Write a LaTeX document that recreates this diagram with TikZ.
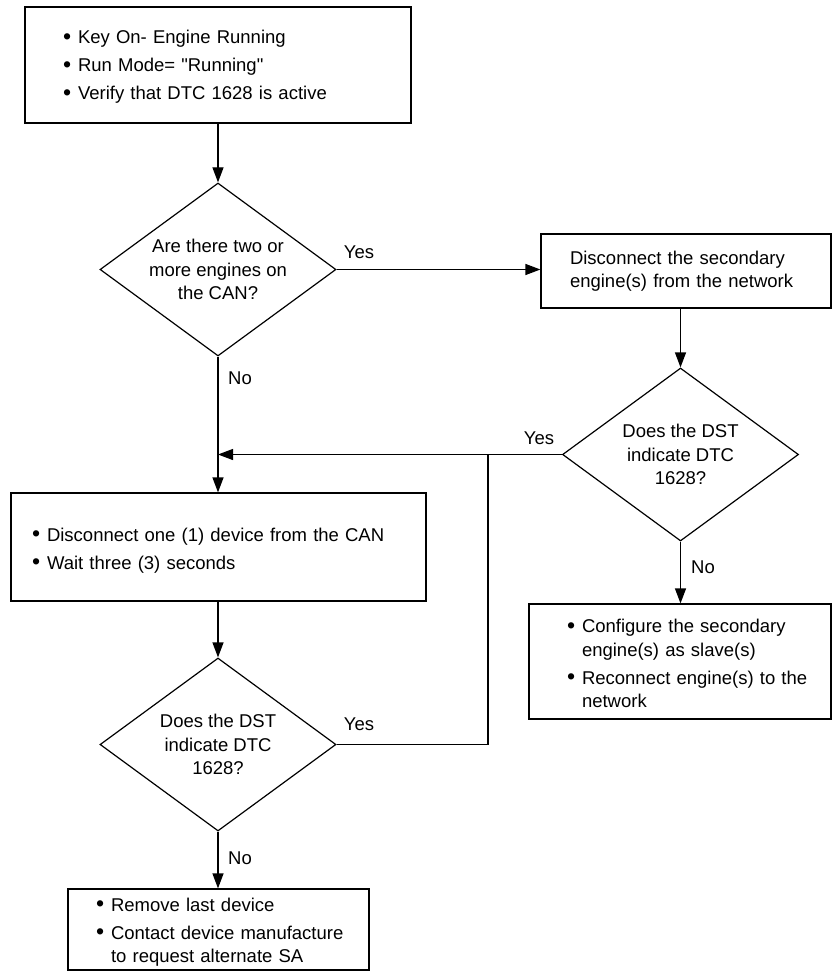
\documentclass[tikz,border=0pt]{standalone}
\usepackage{fontspec}
\setmainfont{Liberation Sans}
\usetikzlibrary{arrows.meta,shapes.geometric}
\newcommand{\bitem}[1]{\hangindent=15pt\hangafter=1\noindent\makebox[15pt][l]{\raisebox{-0.6pt}{\scalebox{1.25}{\textbullet}}}#1\par}
\newcommand{\nl}{\hfil\break}
\newcommand{\lift}[1]{\par\kern-#1\hrule height 0pt}

\begin{document}
\begin{tikzpicture}[x=1pt,y=-1pt,line width=1.2pt,>={Triangle[length=15pt,width=11pt]},
  font=\fontsize{18.5}{23.5}\selectfont,
  box/.style={draw,rectangle,inner sep=0pt,align=left},
  decision/.style={draw,diamond,inner xsep=-30pt,inner ysep=-20pt,minimum width=236pt,minimum height=173pt,align=center},
  answer/.style={inner sep=0pt}]
\useasboundingbox (0,0) rectangle (838,973);
% ---------- left column ----------
\node[box,text width=386pt,minimum height=116pt] (start) at (218,65)
  {\leftskip=38pt\parskip=4.5pt
   \bitem{Key On- Engine Running}\bitem{Run Mode= \textquotedbl Running\textquotedbl}\bitem{Verify that DTC 1628 is active}\lift{4pt}};
\node[decision] (engines) at (218,269.5) {Are there two or\\more engines on\\the CAN?};
\node[box,text width=415pt,minimum height=108pt] (device) at (218.5,547)
  {\leftskip=21pt\parskip=4.5pt
   \bitem{Disconnect one (1) device from the CAN}\bitem{Wait three (3) seconds}\lift{7pt}};
\node[decision] (dstleft) at (218,744.5) {Does the DST\\indicate DTC\\1628?};
\node[box,text width=301pt,minimum height=81pt] (last) at (218.5,929.5)
  {\leftskip=28pt\parskip=4.5pt
   \bitem{Remove last device}\bitem{Contact device manufacture\nl to request alternate SA}\lift{5pt}};
% ---------- right column ----------
\node[box,text width=290pt,minimum height=74pt] (secondary) at (686,271)
  {\leftskip=29pt
   Disconnect the secondary\nl engine(s) from the network\par};
\node[decision] (dstright) at (680.5,454.5) {Does the DST\\indicate DTC\\1628?};
\node[box,text width=302pt,minimum height=115pt] (slave) at (680,661.5)
  {\leftskip=38pt\parskip=4.5pt
   \bitem{Configure the secondary\nl engine(s) as slave(s)}\bitem{Reconnect engine(s) to the\nl network}\lift{4pt}};
% ---------- connectors ----------
\coordinate (join) at (engines.south |- dstright.west);
\coordinate (merge) at (488,455);
\draw[->] (start) -- (engines);
\draw[->] (engines.east) -- (engines.east -| secondary.west);
\draw[->] (dstright.north |- secondary.south) -- (dstright.north);
\draw[->] (dstright.west) -- (join);
\draw[->] (engines.south) -- (engines.south |- device.north);
\draw[->] (dstright.south) -- (dstright.south |- slave.north);
\draw[->] (device.south -| dstleft.north) -- (dstleft.north);
\draw (dstleft.east) -| (merge);
\draw[->] (dstleft.south) -- (dstleft.south |- last.north);
% answers
\node[answer] (yes1) at (359,252) {Yes};
\node[answer] (no1) at (240,378) {No};
\node[answer] (yes2) at (539,438) {Yes};
\node[answer] (no2) at (703,567) {No};
\node[answer] (yes3) at (359,724) {Yes};
\node[answer] (no3) at (240,858) {No};
\end{tikzpicture}
\end{document}
